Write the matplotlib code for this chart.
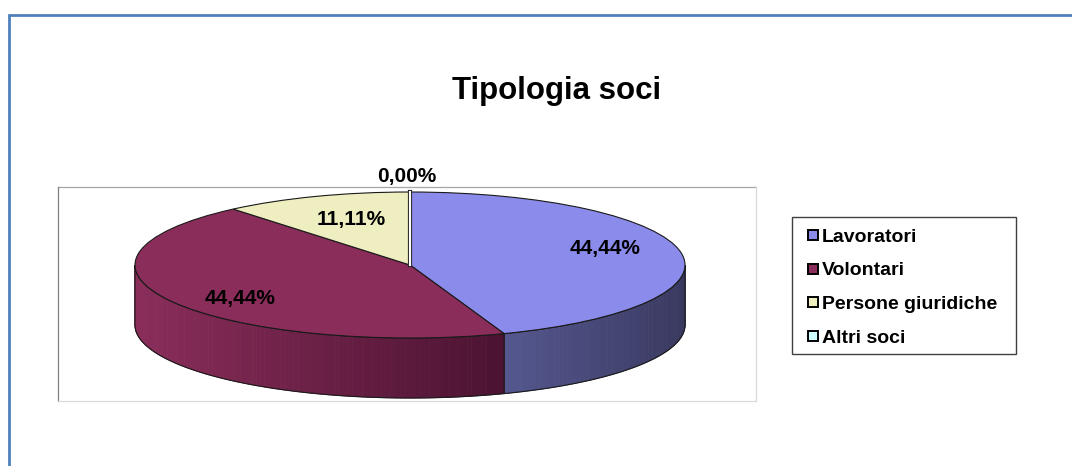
import matplotlib
matplotlib.use("Agg")
import matplotlib.pyplot as plt
import matplotlib.patheffects as pe
import numpy as np
from matplotlib.collections import PolyCollection
from matplotlib.colors import to_rgb
from matplotlib.patches import Polygon, Rectangle

TITLE = "Tipologia soci"
CATEGORIES = ["Lavoratori", "Volontari", "Persone giuridiche", "Altri soci"]
VALUES = [4, 4, 1, 0]

TOP_COLORS = ["#8b8bec", "#8b2d5a", "#eeeec0", "#ccffff"]
SIDE_LIGHT = ["#55588f", "#8a2d5a", "#d6d6a8", "#b0e0e0"]
SIDE_DARK = ["#393960", "#4b1331", "#a0a070", "#80b0b0"]
EDGE = "#1a1a1a"

W, H = 1072, 466
CX, CY, RX, RY, DEPTH = 410, 265, 275, 73, 60          # pie geometry, pixels
LABEL_XY = [(605, 254), (240, 304), (351, 225), (407, 182)]  # label baselines, pixels

plt.rcParams["font.family"] = ["Liberation Sans", "DejaVu Sans"]


def mix(c1, c2, t):
    a, b = np.array(to_rgb(c1)), np.array(to_rgb(c2))
    return tuple(a + (b - a) * t)


fig = plt.figure(figsize=(W / 100, H / 100), dpi=100)
bg = fig.add_axes([0, 0, 1, 1])
bg.set_xlim(0, W); bg.set_ylim(H, 0); bg.axis("off")

# outer frame + plot area
bg.plot([9, 9, W + 10], [H + 10, 15, 15], color="#4f81bd", lw=2.0, solid_joinstyle="miter")
bg.plot([58, 756], [187, 187], color="#a6a6a6", lw=0.9)
bg.plot([58, 58], [187, 401], color="#808080", lw=0.9)
bg.plot([58, 756], [401, 401], color="#d9d9d9", lw=0.9)
bg.plot([756, 756], [187, 401], color="#d9d9d9", lw=0.9)

bg.text(557, 99, TITLE, ha="center", va="baseline", fontsize=22.5, fontweight="bold")

# pie axes mapped so that the unit circle becomes the projected ellipse
ax = fig.add_axes([0, 0, 1, 1])
ax.axis("off")
d = DEPTH / RY
total = sum(VALUES)
fracs = [v / total for v in VALUES]

start = 90.0
bounds = []
for i, f in enumerate(fracs):
    t0, t1 = start - 360 * f, start
    start = t0
    bounds.append((t0, t1))
    for shift in (0, 360):
        lo, hi = max(t0 + shift, -180), min(t1 + shift, 0)
        if hi - lo <= 0:
            continue
        n = max(2, int(hi - lo))
        ts = np.radians(np.linspace(lo, hi, n + 1))
        xs, ys = np.cos(ts), np.sin(ts)
        x0, x1 = xs.min(), xs.max()
        polys, cols = [], []
        for j in range(n):
            polys.append([(xs[j], ys[j]), (xs[j + 1], ys[j + 1]),
                          (xs[j + 1], ys[j + 1] - d), (xs[j], ys[j] - d)])
            xm = (xs[j] + xs[j + 1]) / 2
            cols.append(mix(SIDE_LIGHT[i], SIDE_DARK[i], (xm - x0) / (x1 - x0)))
        ax.add_collection(PolyCollection(polys, facecolors=cols, edgecolors=cols, lw=0.6))
        outline = list(zip(xs, ys)) + list(zip(xs[::-1], ys[::-1] - d))
        ax.add_patch(Polygon(outline, closed=True, fill=False, edgecolor=EDGE, lw=0.8))

ax.pie(VALUES, colors=TOP_COLORS, startangle=90, counterclock=False, radius=1,
       wedgeprops=dict(edgecolor=EDGE, linewidth=0.8))

# zero-width slice shows as a thin light line
for i, (t0, t1) in enumerate(bounds):
    if VALUES[i] == 0:
        a = np.radians(t1)
        ax.plot([0, np.cos(a)], [0, np.sin(a)], color="white", lw=1.6,
                path_effects=[pe.Stroke(linewidth=3.0, foreground=EDGE), pe.Normal()])

ax.set_aspect("auto")
ax.set_xlim((0 - CX) / RX, (W - CX) / RX)
ax.set_ylim((CY - H) / RY, CY / RY)

for (x, y), f in zip(LABEL_XY, fracs):
    bg.text(x, y, f"{f * 100:.2f}%".replace(".", ","), ha="center", va="baseline",
            fontsize=15, fontweight="bold", zorder=5)
bg.set_zorder(ax.get_zorder() + 1)
bg.patch.set_visible(False)

# legend
bg.add_patch(Rectangle((792, 217), 224, 137, fill=False, edgecolor="#404040", lw=1.0))
for k, (name, col) in enumerate(zip(CATEGORIES, TOP_COLORS)):
    yc = 235 + k * 33.7
    bg.add_patch(Rectangle((808, yc - 5), 10, 10, facecolor=col, edgecolor="black", lw=1.4))
    bg.text(822, yc + 6.5, name, ha="left", va="baseline", fontsize=14, fontweight="bold")

fig.savefig("out.png", dpi=100)
